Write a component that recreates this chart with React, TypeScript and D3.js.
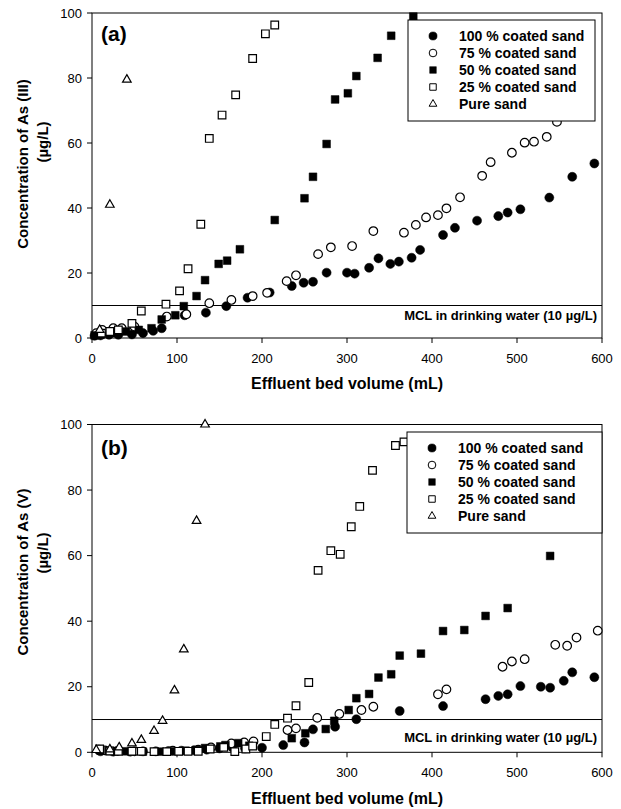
import { useEffect, useRef } from 'react';
import * as d3 from 'd3';

// Axis ticks
const xTicks = [0, 100, 200, 300, 400, 500, 600];
const yTicks = [0, 20, 40, 60, 80, 100];

// Panel (a) - As(III), [effluent bed volume mL, concentration µg/L]
const a100 = [[3, 0.7], [10, 0.8], [20, 1], [31, 1], [47, 1.1], [60, 1.5], [72, 2.2], [82, 3], [109, 7], [134, 7.8], [158, 9.8], [183, 12.4], [209, 14], [235, 16], [249, 17], [260, 17.3], [276, 20.1], [300, 20.1], [309, 19.8], [326, 21.6], [337, 24.5], [351, 22.8], [361, 23.5], [376, 24.7], [386, 27.1], [413, 31.7], [427, 33.9], [453, 36.1], [478, 37.5], [489, 38.6], [504, 39.6], [538, 43.2], [565, 49.6], [591, 53.7]];
const a75 = [[5, 1.5], [12, 2.5], [25, 3], [35, 3], [50, 3.5], [88, 6.6], [111, 7.3], [138, 10.7], [164, 11.7], [189, 12.9], [206, 13.9], [229, 17.5], [240, 19.3], [266, 25.8], [281, 27.9], [306, 28.3], [331, 32.9], [367, 32.4], [381, 34.8], [393, 37.1], [407, 37.8], [417, 39.9], [433, 43.3], [459, 49.9], [469, 54.1], [494, 57], [509, 60.1], [520, 60.4], [535, 61.9], [547, 66.5]];
const a50 = [[3, 0.8], [10, 1], [25, 1.5], [40, 2], [55, 2.5], [70, 3], [82, 5.7], [98, 7], [108, 9.8], [123, 12.9], [133, 17.8], [149, 22.8], [159, 23.8], [174, 27.3], [215, 36.3], [250, 43], [260, 49.6], [276, 59.7], [286, 73.4], [301, 75.3], [311, 80.6], [336, 86.2], [352, 93], [378, 98.9]];
const a25 = [[11, 1.5], [21, 2], [31, 2.5], [47, 4.5], [58, 8.3], [87, 10.4], [103, 14.5], [113, 21.3], [128, 35], [138, 61.4], [153, 68.6], [169, 74.8], [189, 86], [204, 93.6], [215, 96.3]];
const aPure = [[9, 2.5], [21, 41], [41, 79.5]];

// Panel (b) - As(V)
const b100 = [[10, 0.3], [25, 0.2], [45, 0.2], [60, 0.3], [75, 0.3], [90, 0.4], [105, 0.5], [120, 0.6], [135, 0.8], [150, 1.2], [165, 1.5], [180, 1.2], [200, 1.4], [225, 2.2], [250, 3], [260, 7], [286, 7.8], [311, 10.1], [362, 12.6], [413, 14.1], [463, 16.2], [478, 17.2], [489, 17.7], [504, 20.2], [528, 20], [539, 19.7], [555, 21.8], [565, 24.4], [591, 22.9]];
const b75 = [[8, 0.8], [15, 0.6], [30, 0.4], [50, 0.3], [95, 0.5], [125, 0.8], [140, 1.5], [164, 2.7], [179, 3], [190, 3.3], [230, 6.8], [240, 7.3], [265, 10.5], [291, 11.7], [317, 12.9], [331, 13.9], [407, 17.7], [417, 19.2], [483, 26.1], [494, 27.7], [509, 28.4], [545, 32.8], [559, 32.5], [570, 35], [595, 37.1]];
const b50 = [[10, 0.5], [20, 0.4], [40, 0.3], [60, 0.2], [80, 0.2], [96, 0.3], [110, 0.5], [123, 0.7], [133, 1.3], [151, 1.8], [157, 2.2], [172, 2.8], [185, 2], [235, 4.3], [251, 5.8], [275, 7.1], [285, 9.6], [302, 12.9], [311, 16.5], [326, 17.8], [337, 22.8], [352, 23.8], [362, 29.5], [387, 30.1], [413, 37], [438, 37.3], [463, 41.6], [489, 44], [539, 59.9], [592, 75]];
const b25 = [[9, 1], [21, 0.4], [31, 0.3], [47, 0.3], [58, 0.3], [73, 0.2], [88, 0.2], [102, 0.3], [113, 0.3], [125, 0.3], [139, 1], [155, 1.5], [168, 0.2], [181, 1], [189, 1.9], [205, 4.8], [215, 8.5], [230, 10.4], [240, 14.2], [255, 21.3], [266, 55.5], [281, 61.5], [292, 60.4], [305, 68.8], [315, 75], [330, 86], [357, 93.6], [367, 94.7]];
const bPure = [[5, 0.7], [21, 0.9], [32, 1.5], [47, 2.7], [58, 3.8], [73, 6.5], [83, 9.6], [97, 18.9], [108, 31.4], [123, 70.6], [133, 100]];

const seriesLabels = ['100 % coated sand', '75 % coated sand', '50 % coated sand', '25 % coated sand', 'Pure sand'];
const mclLevel = 10;
const mclLabel = 'MCL in drinking water (10 \u00b5g/L)';
const xTitle = 'Effluent bed volume (mL)';

const FONT = '"Liberation Sans", Arial, Helvetica, sans-serif';

const markers = [
  { symbol: d3.symbolCircle, filled: true, size: 64, legendSize: 52 },
  { symbol: d3.symbolCircle, filled: false, size: 58, legendSize: 46 },
  { symbol: d3.symbolSquare, filled: true, size: 60, legendSize: 44 },
  { symbol: d3.symbolSquare, filled: false, size: 58, legendSize: 42 },
  { symbol: d3.symbolTriangle, filled: false, size: 32, legendSize: 26 },
];

const panels = [
  {
    label: '(a)', yTitle: 'Concentration of As (III)', top: 13, bottom: 338,
    series: [a100, a75, a50, a25, aPure],
    legend: { x: 408, y: 20, w: 187, h: 101 }, labelY: 41, mclDy: 14.5,
    tickLabelY: 363, titleY: 389, yTitleC: 164, yUnitC: 142,
  },
  {
    label: '(b)', yTitle: 'Concentration of As (V)', top: 424.5, bottom: 752.3,
    series: [b100, b75, b50, b25, bPure],
    legend: { x: 407, y: 432, w: 195, h: 101 }, labelY: 455, mclDy: 22.5,
    tickLabelY: 776.5, titleY: 804, yTitleC: 572, yUnitC: 553,
  },
];

function drawPanel(svg: any, p: any) {
  const x = d3.scaleLinear().domain([0, 600]).range([92, 602]);
  const y = d3.scaleLinear().domain([0, 100]).range([p.bottom, p.top]);
  const g = svg.append('g');

  // plot frame
  g.append('rect')
    .attr('x', x(0)).attr('y', y(100))
    .attr('width', x(600) - x(0)).attr('height', y(0) - y(100))
    .attr('fill', 'none').attr('stroke', '#000').attr('stroke-width', 1);

  // x ticks + labels
  g.selectAll('line.xt').data(xTicks).join('line')
    .attr('x1', d => x(d)).attr('x2', d => x(d))
    .attr('y1', y(0)).attr('y2', y(0) + 5)
    .attr('stroke', '#000');
  g.selectAll('text.xl').data(xTicks).join('text')
    .attr('class', 'xl')
    .attr('x', d => x(d)).attr('y', p.tickLabelY)
    .attr('text-anchor', 'middle')
    .attr('font-size', 13)
    .text(d => d);

  // y ticks + labels
  g.selectAll('line.yt').data(yTicks).join('line')
    .attr('x1', x(0) - 5).attr('x2', x(0))
    .attr('y1', d => y(d)).attr('y2', d => y(d))
    .attr('stroke', '#000');
  g.selectAll('text.yl').data(yTicks).join('text')
    .attr('class', 'yl')
    .attr('x', x(0) - 10).attr('y', d => y(d))
    .attr('dy', '0.35em')
    .attr('text-anchor', 'end')
    .attr('font-size', 13)
    .text(d => d);

  // axis titles
  g.append('text')
    .attr('x', (x(0) + x(600)) / 2).attr('y', p.titleY)
    .attr('text-anchor', 'middle').attr('font-weight', 'bold').attr('font-size', 16)
    .text(xTitle);
  g.append('text')
    .attr('transform', `translate(28,${p.yTitleC}) rotate(-90)`)
    .attr('text-anchor', 'middle').attr('font-weight', 'bold').attr('font-size', 15)
    .text(p.yTitle);
  g.append('text')
    .attr('transform', `translate(48,${p.yUnitC}) rotate(-90)`)
    .attr('text-anchor', 'middle').attr('font-weight', 'bold').attr('font-size', 15)
    .text('(\u00b5g/L)');

  // MCL line
  g.append('line')
    .attr('x1', x(0)).attr('x2', x(600))
    .attr('y1', y(mclLevel)).attr('y2', y(mclLevel))
    .attr('stroke', '#000').attr('stroke-width', 1);
  g.append('text')
    .attr('x', x(600) - 5).attr('y', y(mclLevel) + p.mclDy)
    .attr('text-anchor', 'end').attr('font-weight', 'bold').attr('font-size', 13)
    .text(mclLabel);

  // panel label
  g.append('text')
    .attr('x', 101).attr('y', p.labelY)
    .attr('font-weight', 'bold').attr('font-size', 21)
    .text(p.label);

  // points
  p.series.forEach((data: number[][], i: number) => {
    const m = markers[i];
    const sym = d3.symbol().type(m.symbol).size(m.size);
    g.append('g').selectAll('path').data(data).join('path')
      .attr('d', sym)
      .attr('transform', (d: number[]) => `translate(${x(d[0])},${y(d[1])})`)
      .attr('fill', m.filled ? '#000' : '#fff')
      .attr('stroke', '#000')
      .attr('stroke-width', m.filled ? 0.5 : 1.2);
  });

  // legend
  const lg = g.append('g');
  lg.append('rect')
    .attr('x', p.legend.x).attr('y', p.legend.y)
    .attr('width', p.legend.w).attr('height', p.legend.h)
    .attr('fill', '#fff').attr('stroke', '#000').attr('stroke-width', 1);
  seriesLabels.forEach((label, i) => {
    const m = markers[i];
    const cy = p.legend.y + 16 + i * 17;
    lg.append('path')
      .attr('d', d3.symbol().type(m.symbol).size(m.legendSize)())
      .attr('transform', `translate(${p.legend.x + 25},${cy})`)
      .attr('fill', m.filled ? '#000' : '#fff')
      .attr('stroke', '#000')
      .attr('stroke-width', m.filled ? 0.5 : 1);
    lg.append('text')
      .attr('x', p.legend.x + 51).attr('y', cy)
      .attr('dy', '0.36em')
      .attr('font-weight', 'bold').attr('font-size', 14)
      .text(label);
  });
}

export default function App() {
  const ref = useRef<SVGSVGElement>(null);

  useEffect(() => {
    const svg = d3.select(ref.current);
    svg.selectAll('*').remove();
    panels.forEach(p => drawPanel(svg, p));
  }, []);

  return (
    <svg
      ref={ref}
      width={621}
      height={809}
      style={{ position: 'absolute', left: 0, top: 0, background: '#fff', fontFamily: FONT }}
    />
  );
}
